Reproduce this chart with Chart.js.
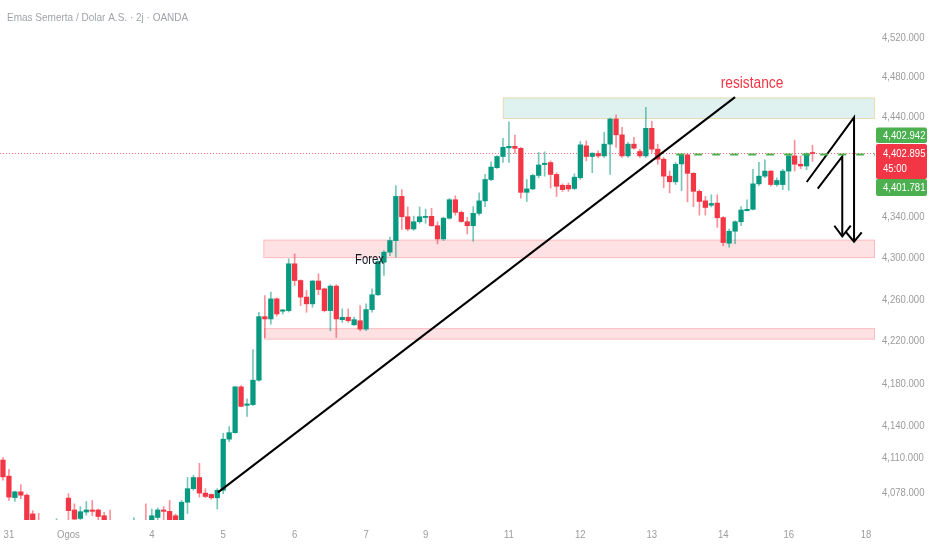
<!DOCTYPE html>
<html>
<head>
<meta charset="utf-8">
<title>Emas Semerta / Dolar A.S. 2j</title>
<script src="https://cdn.jsdelivr.net/npm/chart.js@4.4.1/dist/chart.umd.min.js"></script>
<style>
  html, body { margin: 0; padding: 0; background: #ffffff; }
  canvas { display: block; }
</style>
</head>
<body>
<canvas id="chart" width="932" height="550"></canvas>
<script>
// candles, 2j (2 jam) bars
const opens = [
  4108.2,4093.3,4073.5,4078.8,4075.7,4058.5,4046,4041,4037,4043,
  4049,4073.0,4062.1,4054.3,4060.2,4062.1,4062.1,4056.8,4048,4043,
  4040,4044,4046,4050,4050,4045,4055.2,4062.1,4060.8,4056.8,
  4050,4069.2,4081.7,4092.0,4077.6,4076.4,4073.3,4080.2,4127.6,4133.7,
  4176.7,4159.3,4160.0,4183.0,4243.5,4241.3,4260.6,4248.7,4249.3,4294.5,
  4278.3,4262.3,4255.8,4277.8,4270.3,4249.3,4272.9,4240.6,4242.9,4235.7,
  4239.6,4231.6,4250.3,4264.5,4296.0,4305.8,4317.1,4360.4,4340.4,4328.4,
  4335.5,4339.7,4340.8,4331.6,4318.7,4339.0,4357.1,4344.7,4335.5,4331.6,
  4343.7,4356.0,4377.1,4388.8,4399.9,4408.5,4410.0,4408.0,4364.4,4367.8,
  4381.1,4391.9,4393.9,4382.1,4371.4,4371.4,4368.2,4378.8,4410.5,4399.9,
  4402.9,4400.5,4412.2,4437.3,4421.5,4400.5,4412.2,4404.9,4400.5,4428.0,
  4407.2,4397.2,4380.4,4374.8,4392.5,4401.6,4383.2,4365.4,4356.0,4351.7,
  4353.8,4339.6,4314.5,4326.2,4335.5,4346.3,4347.7,4372.8,4380.4,4385.4,
  4372.1,4372.1,4385.4,4400.5,4392.2,4390.5,4403.6
];
const highs = [
  4110.7,4099.5,4079.5,4085.4,4077.0,4061.5,4059,4047,4046,4054,
  4052,4077.1,4067.7,4065.2,4069.9,4070.8,4063.0,4059.9,4062,4048,
  4049,4050,4055.2,4052,4067.7,4063,4064,4065.2,4070.8,4058.4,
  4070.8,4092.0,4094.2,4105.1,4081.7,4077.0,4081.7,4133.2,4139.3,4177.3,
  4178.0,4165.3,4212.0,4247.7,4263.8,4267.1,4261.5,4250.5,4299.3,4304.0,
  4279.0,4268.7,4278.3,4284.8,4271.0,4274.2,4274.2,4251.0,4251.0,4243.0,
  4254.1,4255.8,4270.3,4297.7,4307.4,4320.4,4371.0,4367.1,4350.0,4341.0,
  4350.0,4347.8,4348.7,4335.5,4340.0,4358.4,4361.0,4346.0,4339.7,4350.3,
  4363.8,4382.1,4394.5,4400.5,4418.0,4434.6,4421.2,4409.0,4377.1,4382.1,
  4403.9,4404.5,4395.5,4383.8,4372.8,4373.8,4382.8,4414.9,4415.5,4403.5,
  4405.5,4424.0,4438.3,4441.6,4429.0,4414.0,4419.0,4407.0,4449.0,4435.0,
  4412.2,4398.9,4385.4,4393.9,4402.6,4402.6,4384.0,4367.0,4360.4,4362.0,
  4362.0,4340.5,4328.4,4336.4,4350.3,4357.0,4387.1,4394.0,4396.5,4386.0,
  4378.8,4387.1,4402.2,4416.2,4400.5,4403.5,4411.0
];
const lows = [
  4089.5,4070.8,4070.0,4072.4,4040,4038,4036,4032,4033,4039,
  4040,4052.8,4050.0,4052.8,4057.4,4056.8,4052.8,4040,4038,4033,
  4035,4038,4040,4042,4040,4042,4052.8,4052.8,4048,4046,
  4047,4058.9,4080.2,4073.9,4073.3,4072.0,4063.0,4077.1,4125.3,4133.2,
  4158.0,4148.8,4159.0,4182.0,4223.5,4236.4,4244.0,4246.0,4248.0,4273.5,
  4254.1,4247.7,4252.6,4264.5,4248.0,4229.9,4223.5,4238.0,4238.0,4235.0,
  4229.9,4230.0,4247.7,4263.8,4283.2,4302.5,4301.0,4328.0,4326.7,4327.0,
  4334.0,4334.0,4331.0,4313.9,4317.0,4338.0,4342.0,4335.0,4323.5,4316.4,
  4342.0,4350.3,4376.0,4388.0,4393.9,4393.9,4403.2,4358.7,4355.4,4367.0,
  4378.8,4380.4,4368.7,4360.4,4365.4,4365.4,4367.0,4377.1,4395.5,4383.8,
  4398.7,4399.0,4382.1,4408.9,4399.0,4399.0,4407.2,4399.0,4399.0,4404.0,
  4392.2,4368.8,4363.8,4372.1,4366.0,4355.0,4350.3,4342.0,4342.0,4350.0,
  4330.0,4312.0,4310.7,4314.0,4331.6,4346.0,4347.0,4371.0,4378.8,4370.4,
  4370.4,4367.1,4366.4,4385.4,4387.8,4386.8,4395.0
];
const closes = [
  4092.6,4073.9,4078.8,4075.7,4052,4044,4041,4037,4043,4049,
  4046,4061.5,4053.7,4060.5,4062.1,4060.8,4056.1,4046,4043,4040,
  4044,4046,4050,4047,4045,4056.8,4062.1,4060.8,4052,4049,
  4069.2,4081.7,4092.0,4077.6,4074.5,4073.3,4080.2,4127.6,4133.7,4176.7,
  4158.3,4160.6,4183.0,4243.5,4241.3,4260.6,4246.1,4250.0,4294.5,4278.3,
  4262.3,4255.8,4277.8,4269.6,4249.3,4272.9,4241.3,4242.9,4239.6,4240.6,
  4231.6,4250.3,4264.5,4296.7,4305.8,4317.1,4360.4,4340.4,4328.4,4335.5,
  4340.4,4340.8,4331.6,4318.7,4339.0,4357.1,4344.7,4335.7,4331.6,4343.7,
  4356.0,4377.1,4389.4,4399.9,4409.0,4410.0,4408.0,4364.4,4367.8,4381.1,
  4391.5,4393.2,4382.1,4370.4,4367.1,4367.8,4379.4,4411.5,4399.9,4403.2,
  4400.5,4412.2,4437.3,4421.5,4400.5,4412.2,4408.2,4400.5,4428.0,4407.2,
  4397.2,4380.4,4374.8,4392.2,4401.6,4383.2,4365.4,4355.4,4349.5,4353.4,
  4339.4,4315.2,4326.2,4335.5,4347.0,4347.7,4372.8,4380.4,4385.4,4372.1,
  4376.1,4385.4,4400.5,4392.2,4390.5,4402.6,4402.9
];

// time axis: bar slots (incl. empty future slots) and day labels
const slotCount = 147;
const dayTickIndex = [1, 11, 25, 37, 49, 61, 71, 85, 97, 109, 121, 132, 145];
const dayTickText = ['31', 'Ogos', '4', '5', '6', '7', '9', '11', '12', '13', '14', '16', '18'];

// price axis
const priceMin = 4052.9;
const priceMax = 4558.3;
const priceTicks = [4078, 4110, 4140, 4180, 4220, 4260, 4300, 4340, 4440, 4480, 4520];
const lastPrice = 4402.895;
const upperQuote = 4402.942;
const lowerQuote = 4401.781;
const countdown = '45:00';

// drawings, in bar index / price units
const zoneStart = [43.74, 43.85, 83.96];
const zoneEnd = [146.5, 146.5, 146.5];
const zoneLow = [4300.0, 4221.5, 4437.3];
const zoneHigh = [4318.0, 4232.5, 4459.0];
const trendX = [36.13, 122.99];
const trendY = [4078.3, 4459.3];
const arrow1X = [135.03, 142.98, 142.98];
const arrow1Y = [4374.6, 4439.0, 4316.1];
const head1X = [141.64, 142.98, 144.27];
const head1Y = [4325.2, 4316.1, 4325.2];
const arrow2X = [136.88, 141.0, 141.0];
const arrow2Y = [4368.0, 4400.0, 4321.3];
const head2X = [139.67, 141.0, 142.42];
const head2Y = [4331.6, 4321.3, 4331.6];
const quoteLineStart = 113.1;
const noteText = ['resistance', 'Forex'];
const noteX = [125.84, 61.58];
const noteY = [4468.6, 4294.5];

const UP = '#089981';
const DOWN = '#f23645';
const UP_WICK = 'rgba(8,153,129,0.55)';
const DOWN_WICK = 'rgba(242,54,69,0.55)';
const BADGE_GREEN = '#4caf50';
const AXIS_TEXT = '#9c9c9c';
const FONT = "'Liberation Sans', Arial, sans-serif";
const NARROW = 0.83; // horizontal squeeze, the original uses a narrow face
const zoneFill = ['rgba(242,54,69,0.15)', 'rgba(242,54,69,0.15)', 'rgba(8,153,129,0.13)'];
const zoneEdge = ['rgba(242,54,69,0.22)', 'rgba(242,54,69,0.22)', 'rgba(255,152,0,0.25)'];
const noteColor = ['#f23645', '#131722'];
const noteFont = ['16px ' + FONT, '14.5px ' + FONT];
const noteSqueeze = [0.86, 0.78];

const fmt = v => v.toLocaleString('en-US', { minimumFractionDigits: 3, maximumFractionDigits: 3 });
const isUp = i => closes[i] >= opens[i];
const path = (xs, ys) => xs.map((v, i) => ({ x: v, y: ys[i] }));
const idx = opens.map((_, i) => i);

function blackLine(xs, ys) {
    return {
        type: 'line',
        data: path(xs, ys),
        borderColor: '#000000',
        borderWidth: 2,
        pointRadius: 0,
        tension: 0,
        fill: false,
        order: 0,
        clip: 0
    };
}

function badge(ctx, x, top, w, h, color) {
    ctx.fillStyle = color;
    ctx.beginPath();
    ctx.roundRect(x, top, w, h, 2);
    ctx.fill();
}

// text with a horizontal squeeze
function squeezed(ctx, text, x, y, sx) {
    ctx.save();
    ctx.translate(x, y);
    ctx.scale(sx, 1);
    ctx.fillText(text, 0, 0);
    ctx.restore();
}

const drawings = {
    id: 'drawings',
    beforeDatasetsDraw(chart) {
        const { ctx, chartArea: a, scales: { x, y } } = chart;
        ctx.save();
        ctx.beginPath();
        ctx.rect(a.left, a.top, a.right - a.left, a.bottom - a.top);
        ctx.clip();
        zoneLow.forEach((lo, i) => {
            const x0 = x.getPixelForValue(zoneStart[i]);
            const x1 = x.getPixelForValue(zoneEnd[i]);
            const y0 = y.getPixelForValue(zoneHigh[i]);
            const y1 = y.getPixelForValue(lo);
            ctx.fillStyle = zoneFill[i];
            ctx.fillRect(x0, y0, x1 - x0, y1 - y0);
            ctx.strokeStyle = zoneEdge[i];
            ctx.lineWidth = 1;
            ctx.strokeRect(x0 + 0.5, y0 + 0.5, x1 - x0 - 1, y1 - y0 - 1);
        });
        // garis harga terakhir (dotted)
        const yl = Math.round(y.getPixelForValue(lastPrice)) + 0.5;
        ctx.strokeStyle = 'rgba(242,54,69,0.75)';
        ctx.lineWidth = 1;
        ctx.setLineDash([1, 2]);
        ctx.beginPath();
        ctx.moveTo(a.left, yl);
        ctx.lineTo(a.right, yl);
        ctx.stroke();
        ctx.restore();
    },
    afterDatasetsDraw(chart) {
        const { ctx, chartArea: a, scales: { x, y } } = chart;
        ctx.save();
        ctx.beginPath();
        ctx.rect(a.left, a.top, a.right - a.left, a.bottom - a.top);
        ctx.clip();
        const yq = y.getPixelForValue(lowerQuote);
        ctx.strokeStyle = '#4caf50';
        ctx.lineWidth = 2;
        ctx.setLineDash([8, 10]);
        ctx.beginPath();
        ctx.moveTo(x.getPixelForValue(quoteLineStart), yq);
        ctx.lineTo(a.right, yq);
        ctx.stroke();
        ctx.setLineDash([]);
        noteText.forEach((t, i) => {
            ctx.font = noteFont[i];
            ctx.fillStyle = noteColor[i];
            ctx.textAlign = 'center';
            ctx.textBaseline = 'alphabetic';
            squeezed(ctx, t, x.getPixelForValue(noteX[i]), y.getPixelForValue(noteY[i]), noteSqueeze[i]);
        });
        ctx.restore();
    },
    afterDraw(chart) {
        const { ctx, chartArea: a, scales: { x, y } } = chart;
        ctx.save();
        ctx.font = '11.5px ' + FONT;
        ctx.textBaseline = 'middle';
        // axis labels, placed by the scales
        ctx.fillStyle = AXIS_TEXT;
        ctx.textAlign = 'left';
        y.ticks.forEach(t => squeezed(ctx, fmt(t.value), a.right + 7, y.getPixelForValue(t.value), NARROW));
        ctx.textAlign = 'center';
        x.ticks.forEach((t, i) => squeezed(ctx, dayTickText[i], x.getPixelForValue(t.value), a.bottom + 15, NARROW));
        // price badges
        const yl = y.getPixelForValue(lastPrice);
        const bx = a.right + 1;
        const bw = 51;
        const tx = a.right + 8;
        badge(ctx, bx, yl - 26, bw, 15.5, BADGE_GREEN);
        badge(ctx, bx, yl - 9.5, bw, 35, DOWN);
        badge(ctx, bx, yl + 25.5, bw, 17, BADGE_GREEN);
        ctx.fillStyle = '#ffffff';
        ctx.textAlign = 'left';
        squeezed(ctx, fmt(upperQuote), tx, yl - 18, NARROW);
        squeezed(ctx, fmt(lastPrice), tx, yl + 0.5, NARROW);
        squeezed(ctx, countdown, tx, yl + 15.5, NARROW);
        squeezed(ctx, fmt(lowerQuote), tx, yl + 34, NARROW);
        // judul
        ctx.fillStyle = '#a0a3aa';
        squeezed(ctx, 'Emas Semerta / Dolar A.S. \u00b7 2j \u00b7 OANDA', 7, 18, 0.87);
        ctx.restore();
    }
};

new Chart(document.getElementById('chart'), {
    type: 'bar',
    data: {
        datasets: [
            blackLine(trendX, trendY),
            blackLine(arrow1X, arrow1Y),
            blackLine(head1X, head1Y),
            blackLine(arrow2X, arrow2Y),
            blackLine(head2X, head2Y),
            {
                label: 'body',
                data: idx.map(i => ({ x: i, y: [opens[i], closes[i]] })),
                backgroundColor: c => isUp(c.dataIndex) ? UP : DOWN,
                barThickness: 4.6,
                minBarLength: 1,
                grouped: false,
                order: 1,
                clip: 0
            },
            {
                label: 'wick',
                data: idx.map(i => ({ x: i, y: [lows[i], highs[i]] })),
                backgroundColor: c => isUp(c.dataIndex) ? UP_WICK : DOWN_WICK,
                barThickness: 1,
                grouped: false,
                order: 2,
                clip: 0
            }
        ]
    },
    options: {
        responsive: false,
        animation: false,
        events: [],
        layout: { padding: 0 },
        plugins: {
            legend: { display: false },
            tooltip: { enabled: false }
        },
        scales: {
            x: {
                type: 'linear',
                position: 'bottom',
                offset: false,
                min: -0.5,
                max: slotCount - 0.5,
                grid: { display: false, drawTicks: false },
                border: { display: false },
                afterBuildTicks: s => { s.ticks = dayTickIndex.map(v => ({ value: v })); },
                afterFit: s => { s.height = 30; s.paddingLeft = 0; s.paddingRight = 0; },
                ticks: { display: false, autoSkip: false, maxRotation: 0 }
            },
            y: {
                type: 'logarithmic',
                position: 'right',
                min: priceMin,
                max: priceMax,
                beginAtZero: false,
                grid: { display: false, drawTicks: false },
                border: { display: false },
                afterBuildTicks: s => { s.ticks = priceTicks.map(v => ({ value: v })); },
                afterFit: s => { s.width = 57; s.paddingTop = 0; s.paddingBottom = 0; },
                ticks: { display: false }
            }
        }
    },
    plugins: [drawings]
});
</script>
</body>
</html>
